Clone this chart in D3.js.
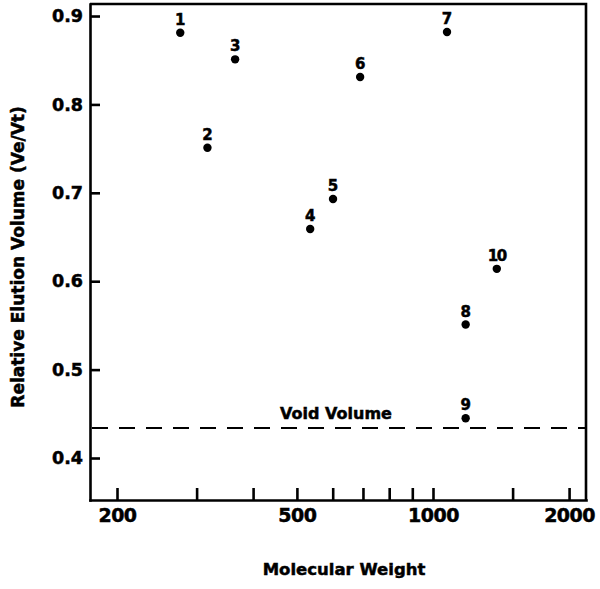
<!DOCTYPE html>
<html>
<head>
<meta charset="utf-8">
<script src="https://cdn.jsdelivr.net/npm/d3@7"></script>
<style>
  body { margin: 0; background: #fff; }
  svg text { font-family: "DejaVu Sans", sans-serif; font-weight: bold; fill: #000; stroke: #000; stroke-width: 0.5; }
  .axis path, .axis line { stroke: #000; stroke-width: 2.6; }
</style>
</head>
<body>
<svg id="chart" width="600" height="589"></svg>
<script>
// Data
const compoundIds = ['1', '2', '3', '4', '5', '6', '7', '8', '9', '10'];
const molWeights = [276, 317, 365, 535, 601, 690, 1074, 1181, 1181, 1384];
const elution = [0.881, 0.751, 0.851, 0.659, 0.693, 0.831, 0.882, 0.551, 0.445, 0.614];
const voidVolume = 0.434;
const xTicks = [200, 300, 400, 500, 600, 700, 800, 900, 1000, 1500, 2000];
const xTickLabels = [200, 500, 1000, 2000];
const yTicks = [0.4, 0.5, 0.6, 0.7, 0.8, 0.9];

const svg = d3.select('#chart');
const L = 90, R = 586, T = 4, B = 500;

const x = d3.scaleLog().domain([174.3, 2180]).range([L, R]);
const y = d3.scaleLinear().domain([0.3525, 0.9136]).range([B, T]);

// frame (top + right)
svg.append('path')
  .attr('d', `M${L},${T} H${R} V${B}`)
  .attr('fill', 'none').attr('stroke', '#000').attr('stroke-width', 2.6);

// x axis, ticks pointing inward
const xAxis = svg.append('g')
  .attr('class', 'axis')
  .attr('transform', `translate(0,${B})`)
  .call(d3.axisBottom(x)
    .tickValues(xTicks)
    .tickSizeInner(-12).tickSizeOuter(0)
    .tickPadding(9)
    .tickFormat(d => xTickLabels.includes(d) ? d : ''));
xAxis.selectAll('text').attr('font-size', 19).attr('dy', '0.71em').attr('letter-spacing', -0.5);

// y axis
const yAxis = svg.append('g')
  .attr('class', 'axis')
  .attr('transform', `translate(${L},0)`)
  .call(d3.axisLeft(y)
    .tickValues(yTicks)
    .tickSizeInner(-10).tickSizeOuter(0)
    .tickPadding(7)
    .tickFormat(d3.format('.1f')));
yAxis.selectAll('text').attr('font-size', 17.5);
svg.selectAll('.axis .domain').attr('stroke-linecap', 'square');

// void volume line
svg.append('line')
  .attr('x1', L + 2).attr('x2', R)
  .attr('y1', y(voidVolume)).attr('y2', y(voidVolume))
  .attr('stroke', '#000').attr('stroke-width', 2)
  .attr('stroke-dasharray', '16,11');

svg.append('text')
  .attr('x', 280).attr('y', y(voidVolume) - 9)
  .attr('font-size', 16)
  .text('Void Volume');

// points + labels
const pts = svg.append('g');
compoundIds.forEach((id, i) => {
  pts.append('circle')
    .attr('cx', x(molWeights[i])).attr('cy', y(elution[i])).attr('r', 4.2)
    .attr('fill', '#000');
  pts.append('text')
    .attr('x', x(molWeights[i])).attr('y', y(elution[i]) - 8)
    .attr('text-anchor', 'middle')
    .attr('font-size', 15)
    .attr('letter-spacing', id.length > 1 ? -1.5 : 0)
    .text(id);
});

// axis titles
svg.append('text')
  .attr('x', 344).attr('y', 575)
  .attr('text-anchor', 'middle')
  .attr('font-size', 16.5)
  .text('Molecular Weight');

svg.append('text')
  .attr('transform', 'translate(24,257) rotate(-90)')
  .attr('text-anchor', 'middle')
  .attr('font-size', 17)
  .text('Relative Elution Volume (Ve/Vt)');
</script>
</body>
</html>
